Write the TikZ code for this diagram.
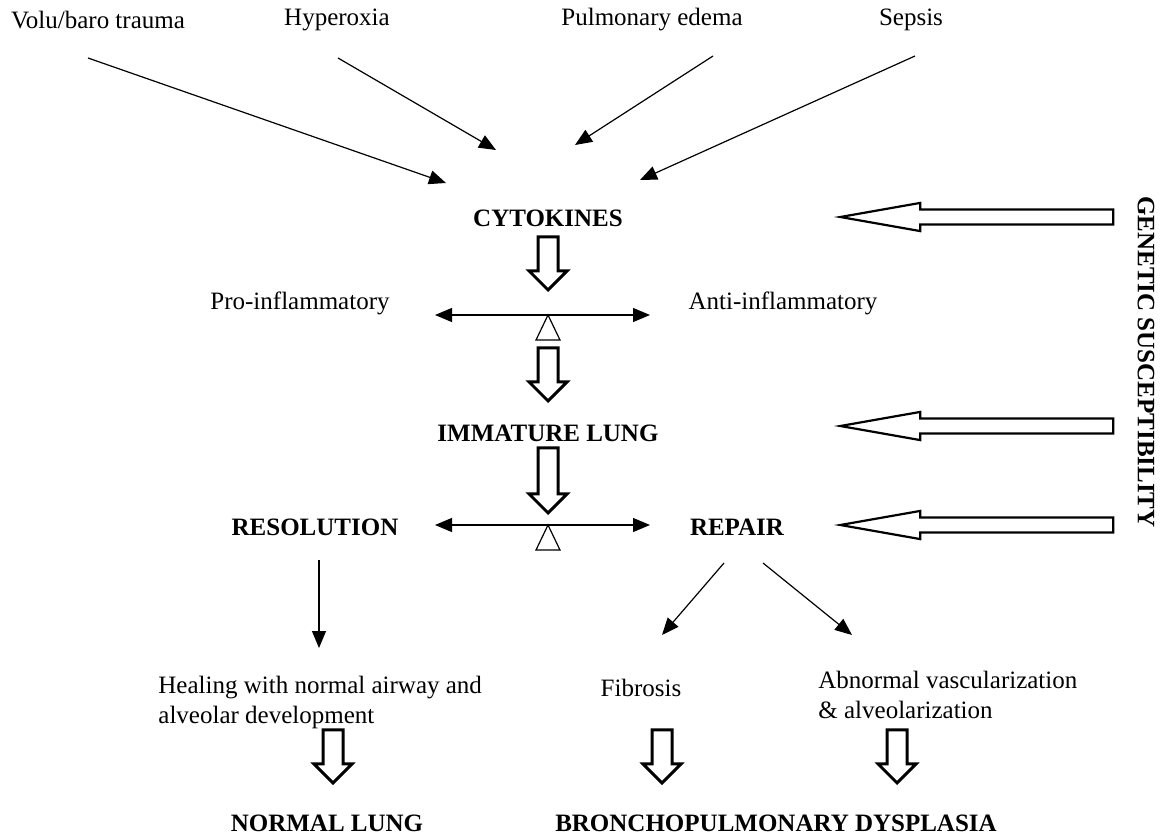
\documentclass[tikz,border=0pt]{standalone}
\usepackage{fontspec}
\setmainfont{Liberation Serif}
\usetikzlibrary{shapes.arrows,arrows.meta,positioning}

\begin{document}
\begin{tikzpicture}[x=0.5pt,y=-0.5pt,font=\fontsize{12.5}{15}\selectfont,
  lbl/.style={inner sep=0pt,align=left},
  hd/.style={inner sep=0pt,font=\fontsize{12.5}{15}\selectfont\bfseries},
  arr/.style={-{Triangle[length=8.5pt,width=7pt]},line width=0.6pt},
  dbl/.style={{Triangle[length=8.5pt,width=7pt]}-{Triangle[length=8.5pt,width=7pt]},line width=0.6pt},
  fatdown/.style={single arrow,draw,line width=1.5pt,fill=white,inner sep=4.25pt,
    single arrow head extend=4.5pt,minimum height=26.5pt,shape border rotate=270,anchor=tip},
  fatleft/.style={single arrow,draw,line width=1.1pt,fill=white,inner sep=3.2pt,
    single arrow head extend=3.3pt,single arrow tip angle=20,minimum height=136.5pt,shape border rotate=180,anchor=tip},
  fulcrum/.style={draw,line width=0.6pt,fill=white}]
\useasboundingbox (0,0) rectangle (1163,835);

% causes
\node[lbl] (volu) at (98,20) {Volu/baro trauma};
\node[lbl] (hyper) at (337,20) {Hyperoxia};
\node[lbl] (edema) at (652,20) {Pulmonary edema};
\node[lbl] (sepsis) at (911,20) {Sepsis};
\coordinate (volu-s) at (88,58);   \coordinate (volu-e) at (446,183);
\coordinate (hyper-s) at (338,58); \coordinate (hyper-e) at (496,150);
\coordinate (edema-s) at (713,56); \coordinate (edema-e) at (575,145);
\coordinate (sepsis-s) at (915,56);\coordinate (sepsis-e) at (640,180);
\draw[arr] (volu-s)--(volu-e); \draw[arr] (hyper-s)--(hyper-e);
\draw[arr] (edema-s)--(edema-e); \draw[arr] (sepsis-s)--(sepsis-e);

% cytokine balance
\node[hd] (cyto) at (548,218) {CYTOKINES};
\node[fatdown] (f1) at (548,292) {};
\node[lbl] (pro) at (300,303) {Pro-inflammatory};
\node[lbl] (anti) at (783,303) {Anti-inflammatory};
\coordinate (b1) at (548,315);
\coordinate (b1l) at (435,315); \coordinate (b1r) at (650,315);
\draw[dbl] (b1l)--(b1r);
\draw[fulcrum] (b1)--++(-12,25)--++(24,0)--cycle;
\node[fatdown] (f2) at (548,403) {};
\node[hd] (lung) at (548,433) {IMMATURE LUNG};
\node[fatdown,minimum height=32.5pt] (f3) at (548,515) {};

% resolution / repair balance
\node[hd] (resol) at (315,527) {RESOLUTION};
\node[hd] (repair) at (737,527) {REPAIR};
\coordinate (b2) at (548,525);
\coordinate (b2l) at (435,525); \coordinate (b2r) at (650,525);
\draw[dbl] (b2l)--(b2r);
\draw[fulcrum] (b2)--++(-12,25)--++(24,0)--cycle;

% genetic susceptibility
\node[fatleft] (g1) at (834,217) {};
\node[fatleft] (g2) at (834,426) {};
\node[fatleft] (g3) at (834,525) {};
\node[hd,rotate=-90] (gen) at (1146,362) {GENETIC SUSCEPTIBILITY};

% outcomes
\node[lbl,anchor=west] (heal) at (158,702) {Healing with normal airway and\\alveolar development};
\node[lbl] (fib) at (641,688) {Fibrosis};
\node[lbl,anchor=west] (abn) at (818,695) {Abnormal vascularization\\\& alveolarization};
\coordinate (resol-s) at (319,560); \coordinate (resol-e) at (319,648);
\coordinate (rep-a) at (724,563);   \coordinate (fib-e) at (662,635);
\coordinate (rep-b) at (763,563);   \coordinate (abn-e) at (852,635);
\draw[arr] (resol-s)--(resol-e);
\draw[arr] (rep-a)--(fib-e); \draw[arr] (rep-b)--(abn-e);
\node[fatdown] (f4) at (333,785) {};
\node[fatdown] (f5) at (662,785) {};
\node[fatdown] (f6) at (897,785) {};
\node[hd] (normal) at (327,823) {NORMAL LUNG};
\node[hd] (bpd) at (776,823) {BRONCHOPULMONARY DYSPLASIA};
\end{tikzpicture}
\end{document}
